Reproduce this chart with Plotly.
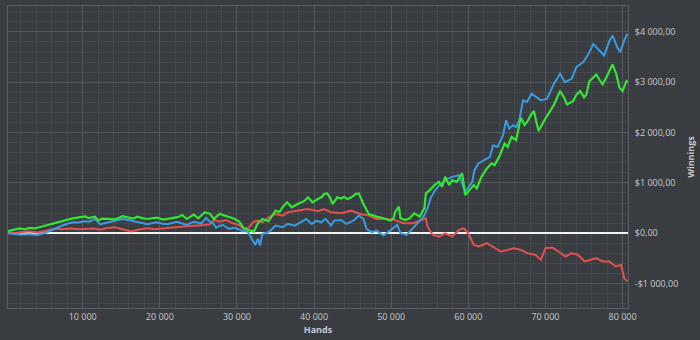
import plotly.graph_objects as go

green_hands = [300,1000,1850,2500,3100,3800,4400,5000,5700,6300,6950,7600,8200,8900,9500,10350,10750,11300,11600,12000,12500,13300,14200,15200,15900,16500,17100,17700,18400,19000,19600,20500,21000,21600,22300,22900,23500,24000,24400,25000,25800,26500,27000,27400,27800,28200,28600,29500,30300,30900,31500,32200,32700,33300,34100,35000,35500,35900,36500,37100,37900,38400,38800,39200,39800,40500,41000,41300,41700,42100,42400,43000,43500,43900,44300,44800,45400,45800,46100,46400,47100,47700,48100,48600,49200,49900,50300,50500,51000,51200,51800,52400,53000,53700,54000,54300,54500,55000,55600,56200,56600,57000,57500,57900,58500,59200,59600,60000,60700,61100,61700,62400,63000,63400,64000,64700,65100,65600,66200,66800,67300,67700,68100,68500,69100,69800,70600,71100,71500,71900,72400,72800,73600,74000,74500,75000,75300,75700,76100,76600,77000,77400,77900,78300,78700,79200,79600,80000,80300,80500,80700]
green_won = [40,70,95,80,105,95,120,140,170,200,235,250,275,300,315,335,300,320,330,255,290,285,275,340,310,290,330,300,283,300,310,270,285,297,320,362,283,330,369,297,415,389,283,340,389,360,343,297,233,99,66,33,198,284,238,449,420,515,614,515,581,620,647,713,614,680,720,780,792,700,581,713,690,725,680,710,780,792,690,581,383,350,330,317,284,251,300,416,527,297,264,297,396,330,420,495,792,857,956,1022,923,1121,956,1055,1022,1188,758,824,956,890,1121,1287,1386,1353,1517,1782,1716,1913,1848,2297,2150,2231,2350,2429,2033,2231,2429,2550,2693,2825,2700,2561,2627,2750,2825,2700,2759,3023,3080,3155,3050,2957,3100,3221,3353,3155,2891,2825,2950,3023,3000]

blue_hands = [300,1000,2000,3000,4000,4800,5700,6500,7300,8200,8900,9500,10200,10800,11600,12300,12800,13300,14300,15200,15900,16500,17100,17700,18400,19000,19600,20300,21000,21600,22200,22800,23500,24000,24400,25000,25400,26000,26500,27000,27300,27800,28200,28600,29000,29500,29900,30700,31400,32000,32400,32700,33000,33300,34100,34600,35000,35900,36600,37500,38300,39000,39700,40300,40900,41500,42200,42600,43500,44200,45100,45800,46400,46800,47500,48100,49000,49600,50300,50800,51200,52000,52600,53200,53800,54200,54700,55100,55700,56300,57000,57900,58800,59600,60500,60800,61300,62000,62800,63200,63800,64500,64900,65300,65800,66200,66600,67100,67600,68200,68800,69400,70200,71100,71900,72500,73400,74000,74900,75600,76200,77000,77600,78300,78700,79300,79700,80200,80600]
blue_won = [0,-10,-30,-20,-35,-10,40,95,150,200,220,215,240,230,280,175,200,215,245,285,263,240,230,200,178,200,218,190,178,205,230,200,164,200,230,210,198,309,230,180,112,150,164,120,85,110,98,46,33,-132,-231,-112,-244,-13,20,90,152,119,185,152,218,284,185,251,218,284,152,251,264,185,251,350,284,86,20,53,-46,20,99,165,0,-33,66,165,264,330,495,693,857,960,1055,1121,1154,824,1022,1254,1386,1452,1517,1749,1716,1947,2244,2079,2145,2112,2244,2640,2607,2772,2700,2640,2673,2970,3168,3003,3069,3300,3399,3564,3762,3630,3531,3828,3927,3696,3597,3828,3960]

red_hands = [300,1500,3000,4200,5500,6400,7300,8500,9500,10800,11500,12300,13000,14200,15500,16300,17500,18400,19400,20500,21000,22000,23000,24000,25000,25800,26500,27100,27800,28600,29500,30300,30900,31500,32200,32700,33300,34100,35000,35900,36600,37900,39200,40500,41300,42200,43500,44800,46000,47100,48100,49200,50300,51600,52900,53900,54500,54700,55400,56200,57000,57900,58800,59400,60000,60700,61400,62400,63200,64200,65100,65900,66800,67700,68700,69400,70000,70900,71700,72600,73400,74200,75100,75900,76600,77400,78300,79100,79800,80200,80600]
red_won = [0,10,40,15,60,95,80,95,80,95,95,68,100,120,66,33,80,99,80,100,112,120,132,140,152,165,178,263,230,263,198,165,85,112,230,251,218,317,383,350,416,449,482,436,482,416,396,449,383,350,284,284,270,198,198,264,297,132,-33,-66,0,-66,66,99,0,-231,-264,-198,-264,-363,-330,-297,-330,-396,-429,-528,-297,-284,-363,-462,-396,-429,-561,-528,-495,-561,-561,-660,-627,-891,-957]

x_ticks = [10000, 20000, 30000, 40000, 50000, 60000, 70000, 80000]
x_labels = ["10 000", "20 000", "30 000", "40 000", "50 000", "60 000", "70 000", "80 000"]
y_ticks = [-1000, 0, 1000, 2000, 3000, 4000]
y_labels = ["-$1 000,00", "$0,00", "$1 000,00", "$2 000,00", "$3 000,00", "$4 000,00"]

BG = "#393c40"
TXT = "#c9cbcd"

fig = go.Figure()
fig.add_trace(go.Scatter(x=red_hands, y=red_won, mode="lines",
                         line=dict(color="#e05252", width=2), showlegend=False))
fig.add_trace(go.Scatter(x=blue_hands, y=blue_won, mode="lines",
                         line=dict(color="#3b9be0", width=2), showlegend=False))
fig.add_trace(go.Scatter(x=green_hands, y=green_won, mode="lines",
                         line=dict(color="#33e633", width=2.2), showlegend=False))

fig.update_layout(
    width=700, height=340,
    margin=dict(l=8, r=61, t=5, b=32),
    paper_bgcolor=BG, plot_bgcolor=BG,
    font=dict(family="Open Sans", size=9, color=TXT),
    xaxis=dict(range=[320, 80700], tickvals=x_ticks, ticktext=x_labels,
               showgrid=True, gridcolor="#55585c", gridwidth=1,
               minor=dict(dtick=2000, tick0=0, showgrid=True, gridcolor="#45484c", gridwidth=1),
               showline=True, linecolor="#5a5d61", mirror=True, zeroline=False,
               ticks="", tickfont=dict(size=9, color=TXT),
               title=dict(text="<b>Hands</b>", font=dict(size=9, color=TXT), standoff=1)),
    yaxis=dict(range=[-1485, 4515], side="right", tickvals=y_ticks, ticktext=y_labels,
               showgrid=True, gridcolor="#55585c", gridwidth=1,
               minor=dict(dtick=200, tick0=0, showgrid=True, gridcolor="#45484c", gridwidth=1),
               showline=True, linecolor="#5a5d61", mirror=True,
               zeroline=True, zerolinecolor="#f2f2f2", zerolinewidth=2,
               ticks="", tickfont=dict(size=9, color=TXT), ticklabelstandoff=4,
               title=dict(text="<b>Winnings</b>", font=dict(size=9, color=TXT), standoff=10)),
)

fig.write_html("out.html")
